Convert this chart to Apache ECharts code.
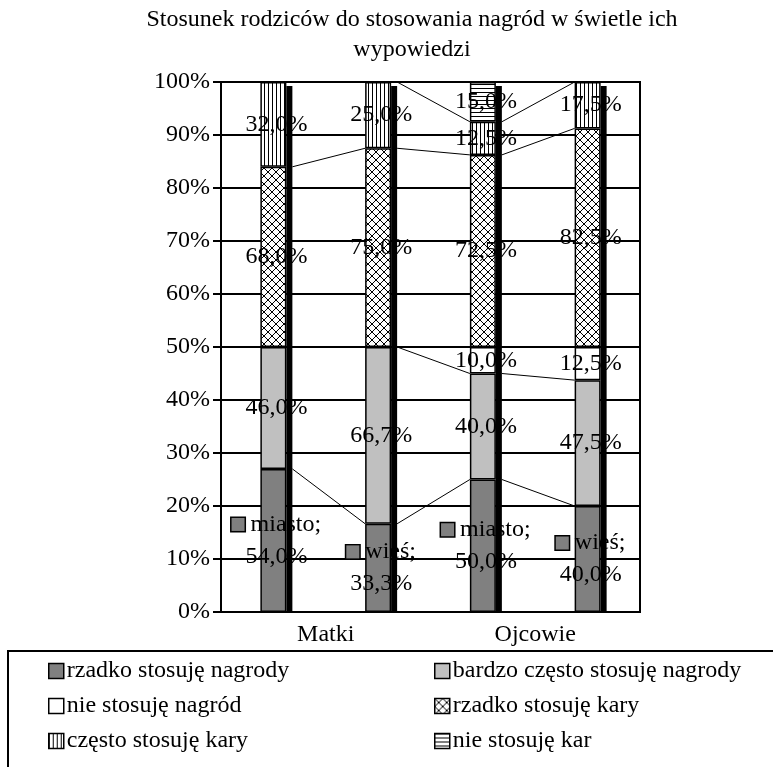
<!DOCTYPE html>
<html>
<head>
<meta charset="utf-8">
<script src="https://cdn.jsdelivr.net/npm/echarts@6/dist/echarts.min.js"></script>
<style>
  html, body { margin: 0; padding: 0; background: #fff; }
  #chart { width: 773px; height: 767px; }
</style>
</head>
<body>
<div id="chart"></div>
<script>
// Respondent groups and their place of residence (one bar each)
const groups = ['Matki', 'Ojcowie'];
const places = ['miasto', 'wieś', 'miasto', 'wieś'];

// Answer categories (stack order, bottom to top)
const seriesNames = [
  'rzadko stosuję nagrody',
  'bardzo często stosuję nagrody',
  'nie stosuję nagród',
  'rzadko stosuję kary',
  'często stosuję kary',
  'nie stosuję kar'
];

// Percent of answers per bar (miasto, wieś for Matki, then for Ojcowie)
const rzadkoNagrody = [54.0, 33.3, 50.0, 40.0];
const bardzoCzestoNagrody = [46.0, 66.7, 40.0, 47.5];
const nieNagrod = [0, 0, 10.0, 12.5];
const rzadkoKary = [68.0, 75.0, 72.5, 82.5];
const czestoKary = [32.0, 25.0, 12.5, 17.5];
const nieKar = [0, 0, 15.0, 0];

const yTicks = { min: 0, max: 100, interval: 10 };

const rawSeries = [rzadkoNagrody, bardzoCzestoNagrody, nieNagrod, rzadkoKary, czestoKary, nieKar];

const FONT = 'Liberation Serif';
const FS = 24;
const BAR_W = 26;
const SHADOW_W = 6;

// Column totals -> each bar is scaled to 100%
const totals = places.map((_, i) => rawSeries.reduce((s, arr) => s + arr[i], 0));
const shares = rawSeries.map(arr => arr.map((v, i) => v / totals[i] * 100));
// Cumulative tops of every segment, used by the connector lines
const cumTops = [];
shares.forEach((arr, k) => {
  cumTops.push(arr.map((v, i) => (k ? cumTops[k - 1][i] : 0) + v));
});

function fmt(v) { return v.toFixed(1).replace('.', ',') + '%'; }

// Small repeating fill patterns
function makePattern(kind) {
  const size = kind === 'cross' ? 8 : 4;
  const c = document.createElement('canvas');
  c.width = size; c.height = size;
  const g = c.getContext('2d');
  g.fillStyle = '#fff';
  g.fillRect(0, 0, size, size);
  g.strokeStyle = '#000';
  g.lineWidth = 1;
  g.beginPath();
  if (kind === 'cross') {
    g.moveTo(0, 0); g.lineTo(size, size);
    g.moveTo(size, 0); g.lineTo(0, size);
  } else if (kind === 'vert') {
    g.moveTo(0.5, 0); g.lineTo(0.5, size);
  } else if (kind === 'horiz') {
    g.moveTo(0, 0.5); g.lineTo(size, 0.5);
  }
  g.stroke();
  return { image: c, repeat: 'repeat' };
}

const fills = [
  '#808080',
  '#c0c0c0',
  '#ffffff',
  makePattern('cross'),
  makePattern('vert'),
  makePattern('horiz')
];

const barSeries = seriesNames.map((name, k) => ({
  name: name,
  type: 'bar',
  stack: 'all',
  barWidth: BAR_W,
  z: 2,
  itemStyle: { color: fills[k], borderColor: '#000', borderWidth: 1.5 },
  data: shares[k].map((v, i) => rawSeries[k][i] > 0 ? { value: v } : null),
  label: {
    show: true,
    position: 'inside',
    offset: [3, 0],
    color: '#000',
    fontFamily: FONT,
    fontSize: FS,
    lineHeight: 32,
    formatter: function (p) {
      const raw = rawSeries[k][p.dataIndex];
      if (k === 0) {
        return '{k|}{t| ' + places[p.dataIndex] + ';}\n' + fmt(raw);
      }
      return fmt(raw);
    },
    rich: k === 0 ? {
      k: { width: 13, height: 13, backgroundColor: '#808080', borderColor: '#000', borderWidth: 1.5 },
      t: { fontFamily: FONT, fontSize: FS, color: '#000', lineHeight: 32 }
    } : undefined
  }
}));

// Dark depth strip on the right side of each bar
const shadowSeries = {
  name: 'cień',
  type: 'custom',
  z: 5,
  silent: true,
  data: totals.map((t, i) => [i, cumTops[cumTops.length - 1][i]]),
  renderItem: function (params, api) {
    const top = api.coord([api.value(0), api.value(1)]);
    const base = api.coord([api.value(0), 0]);
    return {
      type: 'rect',
      shape: { x: top[0] + BAR_W / 2, y: top[1] + 4, width: SHADOW_W, height: base[1] - top[1] - 4 },
      style: { fill: '#000' }
    };
  }
};

// Series lines joining segment tops of neighbouring bars
const connectorSeries = {
  name: 'linie',
  type: 'custom',
  z: 6,
  silent: true,
  data: [[0, 0], [1, 0], [2, 0]],
  renderItem: function (params, api) {
    const i = api.value(0);
    const children = cumTops.map(arr => {
      const a = api.coord([i, arr[i]]);
      const b = api.coord([i + 1, arr[i + 1]]);
      return {
        type: 'line',
        shape: { x1: a[0] + BAR_W / 2 + SHADOW_W, y1: a[1], x2: b[0] - BAR_W / 2, y2: b[1] },
        style: { stroke: '#000', lineWidth: 1 }
      };
    });
    return { type: 'group', children: children };
  }
};

const legendText = { fontFamily: FONT, fontSize: FS, color: '#000', padding: [0, 0, 0, -2] };

const option = {
  backgroundColor: '#fff',
  animation: false,
  title: {
    text: 'Stosunek rodziców do stosowania nagród w świetle ich\nwypowiedzi',
    left: 412,
    top: 5,
    padding: 0,
    textAlign: 'center',
    textStyle: { fontFamily: FONT, fontSize: FS, fontWeight: 'normal', color: '#000', lineHeight: 30 }
  },
  grid: {
    left: 221, right: 133, top: 82, bottom: 155,
    show: true, borderColor: '#000', borderWidth: 2, backgroundColor: 'transparent'
  },
  graphic: [{
    type: 'rect',
    shape: { x: 8, y: 651, width: 800, height: 200 },
    style: { fill: 'none', stroke: '#000', lineWidth: 2 }
  }],
  legend: [
    {
      orient: 'vertical', left: 43, top: 654, itemGap: 11,
      itemWidth: 15, itemHeight: 15, icon: 'rect',
      itemStyle: { borderColor: '#000', borderWidth: 1.5 },
      textStyle: legendText,
      data: [seriesNames[0], seriesNames[2], seriesNames[4]]
    },
    {
      orient: 'vertical', left: 429, top: 654, itemGap: 11,
      itemWidth: 15, itemHeight: 15, icon: 'rect',
      itemStyle: { borderColor: '#000', borderWidth: 1.5 },
      textStyle: legendText,
      data: [seriesNames[1], seriesNames[3], seriesNames[5]]
    }
  ],
  xAxis: [
    {
      type: 'category',
      data: places,
      axisLine: { show: true, lineStyle: { color: '#000', width: 2 } },
      axisTick: { show: false },
      axisLabel: { show: false }
    },
    {
      type: 'category',
      data: groups,
      position: 'bottom',
      axisLine: { show: false },
      axisTick: { show: false },
      axisLabel: { fontFamily: FONT, fontSize: FS, color: '#000', margin: 11 }
    }
  ],
  yAxis: {
    type: 'value',
    min: yTicks.min, max: yTicks.max, interval: yTicks.interval,
    axisLine: { show: true, lineStyle: { color: '#000', width: 2 } },
    axisTick: { show: true, length: 8, lineStyle: { color: '#000', width: 2 } },
    axisLabel: { formatter: '{value}%', fontFamily: FONT, fontSize: FS, color: '#000', margin: 11 },
    splitLine: { show: true, lineStyle: { color: '#000', width: 2 } }
  },
  series: barSeries.concat([shadowSeries, connectorSeries])
};

const chart = echarts.init(document.getElementById('chart'), null, { renderer: 'canvas' });
chart.setOption(option);
</script>
</body>
</html>
